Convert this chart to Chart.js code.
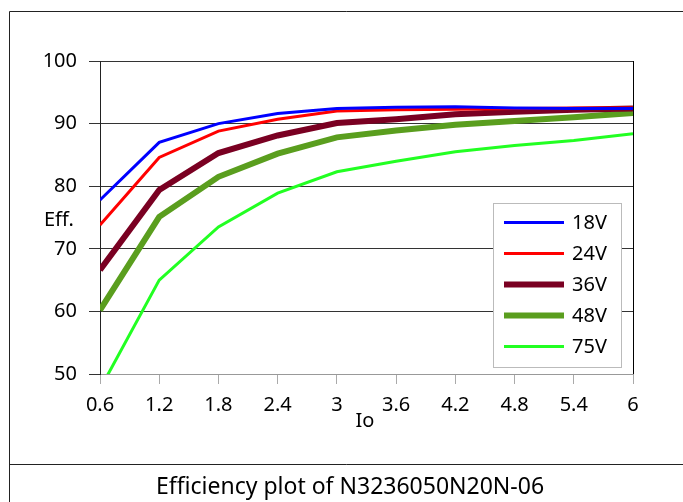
<!DOCTYPE html>
<html>
<head>
<meta charset="utf-8">
<script src="https://cdn.jsdelivr.net/npm/chart.js@4/dist/chart.umd.min.js"></script>
<style>
html,body{margin:0;padding:0;background:#fff;}
#wrap{width:683px;height:502px;position:relative;}
</style>
</head>
<body>
<div id="wrap"><canvas id="c" width="683" height="502"></canvas></div>
<script>
const categories = ['0.6','1.2','1.8','2.4','3','3.6','4.2','4.8','5.4','6'];
const v18 = [77.8, 87.0, 90.0, 91.6, 92.4, 92.6, 92.7, 92.5, 92.4, 92.4];
const v24 = [73.8, 84.6, 88.8, 90.7, 92.0, 92.2, 92.3, 92.4, 92.5, 92.5];
const v36 = [66.6, 79.4, 85.3, 88.1, 90.1, 90.7, 91.5, 91.9, 92.2, 92.4];
const v48 = [60.2, 75.1, 81.5, 85.2, 87.8, 88.9, 89.8, 90.4, 91.0, 91.7];
const v75 = [47.6, 65.0, 73.5, 78.9, 82.3, 84.0, 85.5, 86.5, 87.3, 88.4];
const seriesLabels = ['18V','24V','36V','48V','75V'];
const yTicks = [50, 60, 70, 80, 90, 100];
const caption = 'Efficiency plot of N3236050N20N-06';
const xTitle = 'Io';
const yTitle = 'Eff.';

const FONT = '"Noto Sans", "Open Sans", sans-serif';

const framePlugin = {
  id: 'frame',
  beforeDraw(chart) {
    const ctx = chart.ctx;
    ctx.save();
    ctx.fillStyle = '#fff';
    ctx.fillRect(0, 0, chart.width, chart.height);
    ctx.strokeStyle = '#222';
    ctx.lineWidth = 1;
    ctx.beginPath();
    ctx.moveTo(9.5, 502); ctx.lineTo(9.5, 11.5); ctx.lineTo(683, 11.5);
    ctx.moveTo(9.5, 464.5); ctx.lineTo(683, 464.5);
    ctx.stroke();
    ctx.restore();
  },
  afterDraw(chart) {
    const ctx = chart.ctx;
    ctx.save();
    ctx.fillStyle = '#000';
    ctx.font = '20px ' + FONT;
    ctx.textBaseline = 'middle';
    ctx.textAlign = 'left';
    ctx.fillText(yTitle, 44, 220);
    ctx.textAlign = 'center';
    ctx.fillText(xTitle, 365, 421);
    ctx.font = '23px ' + FONT;
    ctx.fillText(caption, 350, 487);
    ctx.font = '20px ' + FONT;
    // legend
    const lx = 493.5, ly = 203.5, lw = 128, lh = 164;
    ctx.fillStyle = '#fff';
    ctx.fillRect(lx, ly, lw, lh);
    ctx.strokeStyle = '#bbb';
    ctx.lineWidth = 1;
    ctx.strokeRect(lx, ly, lw, lh);
    chart.data.datasets.forEach((ds, i) => {
      const y = 222.5 + i * 31;
      ctx.strokeStyle = ds.borderColor;
      ctx.lineWidth = ds.borderWidth;
      ctx.beginPath();
      ctx.moveTo(504, y); ctx.lineTo(564, y);
      ctx.stroke();
      ctx.fillStyle = '#000';
      ctx.textAlign = 'left';
      ctx.fillText(ds.label, 572, y + 1);
    });
    ctx.restore();
  }
};

const colors = ['#0000ff', '#ff0000', '#7a0022', '#5a9e1e', '#22ff22'];
const widths = [3, 3, 6, 6, 3];
const values = [v18, v24, v36, v48, v75];

new Chart(document.getElementById('c'), {
  type: 'line',
  data: {
    labels: categories,
    datasets: values.map((v, i) => ({
      label: seriesLabels[i],
      data: v,
      borderColor: colors[i],
      backgroundColor: colors[i],
      borderWidth: widths[i],
      pointRadius: 0,
      tension: 0,
      fill: false,
      clip: 0
    }))
  },
  options: {
    responsive: false,
    animation: false,
    devicePixelRatio: 1,
    layout: { padding: { left: 0, right: 50, top: 61, bottom: 68 } },
    plugins: { legend: { display: false }, tooltip: { enabled: false }, title: { display: false } },
    scales: {
      x: {
        type: 'category',
        offset: false,
        grid: {
          color: (c) => (c.index === categories.length - 1 ? '#000' : 'rgba(0,0,0,0)'),
          tickColor: '#aaa',
          tickLength: 10,
          lineWidth: 1
        },
        border: { color: '#999', width: 1 },
        ticks: { color: '#000', font: { family: FONT, size: 20 }, padding: 9, maxRotation: 0, autoSkip: false },
        afterFit(s) { s.height = 60; }
      },
      y: {
        min: 50, max: 100,
        afterBuildTicks(s) { s.ticks = yTicks.map(v => ({ value: v })); },
        grid: {
          color: (c) => (c.tick && c.tick.value === 50 ? 'rgba(0,0,0,0)' : '#333'),
          tickColor: '#333',
          tickLength: 11,
          lineWidth: 1
        },
        border: { color: '#222', width: 1 },
        ticks: { color: '#000', font: { family: FONT, size: 20 }, padding: 12 },
        afterFit(s) { s.width = 100; }
      }
    }
  },
  plugins: [framePlugin]
});
</script>
</body>
</html>
